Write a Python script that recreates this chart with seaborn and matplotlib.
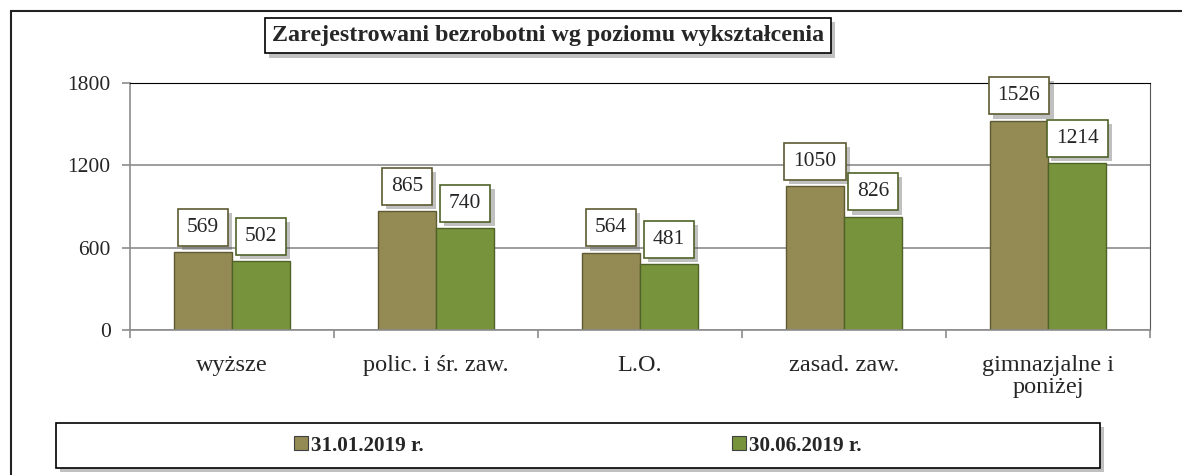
import pandas as pd
import matplotlib.pyplot as plt
import matplotlib.patheffects as pe
from matplotlib.patches import Rectangle
import seaborn as sns

# Data
categories = ['wyższe', 'polic. i śr. zaw.', 'L.O.', 'zasad. zaw.', 'gimnazjalne i\nponiżej']
jan_2019 = [569, 865, 564, 1050, 1526]
jun_2019 = [502, 740, 481, 826, 1214]
series_names = ['31.01.2019 r.', '30.06.2019 r.']
colors = ['#948A54', '#77933C']
edges = ['#5E5A32', '#4F6228']

df = pd.DataFrame({
    'kategoria': categories * 2,
    'wartosc': jan_2019 + jun_2019,
    'seria': [series_names[0]] * 5 + [series_names[1]] * 5,
})

sns.set_style('white')
plt.rcParams['font.family'] = ['Liberation Serif', 'DejaVu Serif']

fig = plt.figure(figsize=(11.82, 4.75), dpi=100)
ax = fig.add_axes([0.110, 0.3053, 0.863, 0.52])

sns.barplot(data=df, x='kategoria', y='wartosc', hue='seria', palette=colors,
            width=0.57, ax=ax, saturation=1, legend=True)

# bar edges
for cont, ec in zip(ax.containers, edges):
    for bar in cont:
        bar.set_edgecolor(ec)
        bar.set_linewidth(1.0)

# value labels in boxes
shadow = [pe.SimplePatchShadow(offset=(3, -3), alpha=0.35), pe.Normal()]
for cont, vals, ec in zip(ax.containers, [jan_2019, jun_2019], edges):
    for bar, v in zip(cont, vals):
        t = ax.annotate(str(v), (bar.get_x() + bar.get_width() / 2, bar.get_height()),
                        xytext=(0, 11), textcoords='offset points', ha='center', va='bottom',
                        fontsize=15.5,
                        bbox=dict(boxstyle='square,pad=0.42', fc='white', ec=ec, lw=1.2))
        t.get_bbox_patch().set_path_effects(shadow)

ax.set_ylim(0, 1800)
ax.set_yticks([0, 600, 1200, 1800])
ax.set_xlim(-0.5, 4.5)
ax.set_xlabel('')
ax.set_ylabel('')
ax.grid(axis='y', color='#8c8c8c', lw=1.2)
ax.set_axisbelow(True)
ax.tick_params(axis='y', labelsize=15.5, length=6, color='#8c8c8c', width=1.2, pad=8, left=True)
ax.tick_params(axis='x', which='major', labelsize=17.5, length=0, pad=18)
for lab in ax.get_xticklabels():
    lab.set_linespacing(1.05)
ax.set_xticks([i - 0.5 for i in range(6)], minor=True)
ax.tick_params(axis='x', which='minor', length=6, color='#8c8c8c', width=1.2, bottom=True)

for s in ['left', 'bottom']:
    ax.spines[s].set_color('#8c8c8c')
    ax.spines[s].set_linewidth(1.2)
ax.spines['top'].set_color('black')
ax.spines['right'].set_color('#555555')
for s in ax.spines.values():
    s.set_visible(True)

# legend in a wide shadowed frame
handles, labels = ax.get_legend_handles_labels()
ax.get_legend().remove()
frame = Rectangle((0.0474, 0.0147), 0.8832, 0.095, transform=fig.transFigure,
                  fc='white', ec='black', lw=1.2, zorder=1)
frame.set_path_effects(shadow)
fig.add_artist(frame)
leg = fig.legend(handles, labels, loc='center', bbox_to_anchor=(0.489, 0.062), ncol=2,
                 frameon=False, prop={'weight': 'bold', 'size': 15.2},
                 handlelength=0.65, handleheight=0.65, handletextpad=0.15, columnspacing=14.6)
for h in leg.legend_handles:
    h.set_edgecolor('#404040')
    h.set_linewidth(0.8)

# title box
title = fig.text(0.4635, 0.925, 'Zarejestrowani bezrobotni wg poziomu wykształcenia',
                 ha='center', va='center', fontsize=17.3, fontweight='bold',
                 bbox=dict(boxstyle='square,pad=0.3', fc='white', ec='black', lw=1.2))
title.get_bbox_patch().set_path_effects(shadow)

# outer chart frame
fig.add_artist(Rectangle((11 / 1182, -0.1), 1.2, 1 - 11 / 475 + 0.1, transform=fig.transFigure,
                         fill=False, ec='#222222', lw=1.5))

fig.savefig('out.png', dpi=100)
